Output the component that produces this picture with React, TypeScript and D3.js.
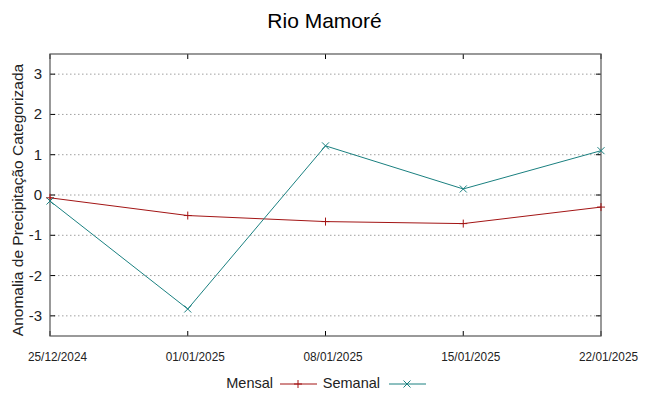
import React from "react";
import * as d3 from "d3";

const dates = ["25/12/2024", "01/01/2025", "08/01/2025", "15/01/2025", "22/01/2025"];
const mensal = [-0.07, -0.51, -0.66, -0.71, -0.3];
const semanal = [-0.15, -2.83, 1.22, 0.15, 1.1];
const yTicks = [-3, -2, -1, 0, 1, 2, 3];

const W = 649, H = 396;
const margin = { top: 54, right: 48, bottom: 60, left: 50 };

export default function App() {
  const parse = d3.timeParse("%d/%m/%Y");
  const xs = dates.map(d => parse(d) as Date);
  const x = d3.scaleTime().domain(d3.extent(xs) as [Date, Date]).range([margin.left, W - margin.right]);
  const y = d3.scaleLinear().domain([-3.5, 3.5]).range([H - margin.bottom, margin.top]);
  const line = d3.line<number>().x((_, i) => x(xs[i])).y(d => y(d));
  const red = "#a31515", teal = "#1a8080";
  const x0 = margin.left, x1 = W - margin.right, y0 = H - margin.bottom, y1 = margin.top;
  const font = "'Liberation Sans', Arial, sans-serif";

  const plus = (cx: number, cy: number, c: string, k: string) => (
    <path key={k} d={`M${cx - 4},${cy}H${cx + 4}M${cx},${cy - 4}V${cy + 4}`} stroke={c} strokeWidth={1} />
  );
  const cross = (cx: number, cy: number, c: string, k: string) => (
    <path key={k} d={`M${cx - 3.5},${cy - 3.5}L${cx + 3.5},${cy + 3.5}M${cx - 3.5},${cy + 3.5}L${cx + 3.5},${cy - 3.5}`} stroke={c} strokeWidth={1} />
  );

  return (
    <svg width={W} height={H} style={{ position: "absolute", left: 0, top: 0, background: "#fff" }} fontFamily={font}>
      <text x={W / 2} y={28} textAnchor="middle" fontSize={21} fill="#000">Rio Mamoré</text>
      {yTicks.map(t => (
        <g key={t}>
          <line x1={x0} x2={x1} y1={y(t)} y2={y(t)} stroke="#a0a0a0" strokeDasharray="1.5,2.5" />
          <line x1={x0} x2={x0 + 5} y1={y(t)} y2={y(t)} stroke="#000" />
          <line x1={x1 - 5} x2={x1} y1={y(t)} y2={y(t)} stroke="#000" />
          <text x={x0 - 8} y={y(t) + 5} textAnchor="end" fontSize={15} fill="#222">{t}</text>
        </g>
      ))}
      {xs.map((d, i) => (
        <g key={i}>
          <line x1={x(d)} x2={x(d)} y1={y0} y2={y0 - 5} stroke="#000" />
          <line x1={x(d)} x2={x(d)} y1={y1} y2={y1 + 5} stroke="#000" />
          <text x={x(d) + 7.5} y={y0 + 25} textAnchor="middle" fontSize={12} fill="#222" textLength={59} lengthAdjust="spacingAndGlyphs">{dates[i]}</text>
        </g>
      ))}
      <rect x={x0} y={y1} width={x1 - x0} height={y0 - y1} fill="none" stroke="#555" strokeWidth={1.2} />
      <path d={line(mensal) || ""} fill="none" stroke={red} strokeWidth={1} />
      {mensal.map((v, i) => plus(x(xs[i]), y(v), red, "m" + i))}
      <path d={line(semanal) || ""} fill="none" stroke={teal} strokeWidth={1} />
      {semanal.map((v, i) => cross(x(xs[i]), y(v), teal, "s" + i))}
      <text transform={`translate(23,200) rotate(-90)`} textAnchor="middle" fontSize={15.5} fill="#222">Anomalia de Precipitação Categorizada</text>
      <text x={273} y={388} textAnchor="end" fontSize={14.5} fill="#222">Mensal</text>
      <line x1={280} x2={317} y1={384} y2={384} stroke={red} />
      {plus(298, 384, red, "lm")}
      <text x={380} y={388} textAnchor="end" fontSize={14.5} fill="#222">Semanal</text>
      <line x1={389} x2={426} y1={384} y2={384} stroke={teal} />
      {cross(407, 384, teal, "ls")}
    </svg>
  );
}
